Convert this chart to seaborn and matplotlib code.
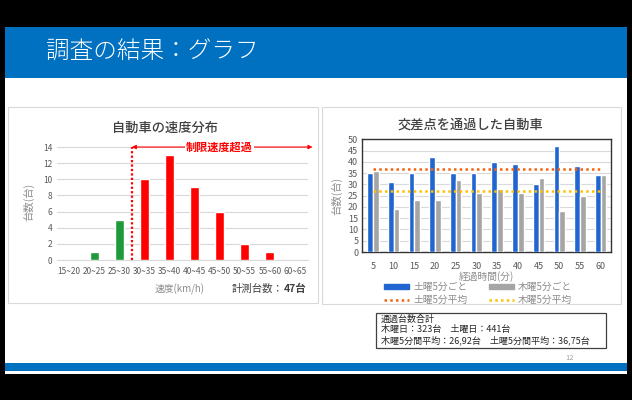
import matplotlib
matplotlib.use("Agg")
import matplotlib.pyplot as plt
import seaborn as sns
import pandas as pd
from matplotlib.patches import Rectangle, Patch
from matplotlib.lines import Line2D

sns.set_style("white")
plt.rcParams['font.family'] = ['Noto Sans CJK JP', 'DejaVu Sans']

# left chart data
speed_bins = ['15~20', '20~25', '25~30', '30~35', '35~40', '40~45',
              '45~50', '50~55', '55~60', '60~65']
speed_counts = [0, 1, 5, 10, 13, 9, 6, 2, 1, 0]
limit_index = 3  # first bin over the limit

# right chart data
minutes = ['5', '10', '15', '20', '25', '30', '35', '40', '45', '50', '55', '60']
sat_counts = [35, 31, 35, 42, 35, 35, 40, 39, 30, 47, 38, 34]
thu_counts = [36, 19, 23, 23, 32, 26, 28, 26, 33, 18, 25, 34]

W, H = 632, 400
fig = plt.figure(figsize=(W / 100, H / 100), dpi=100, facecolor='black')


def box(x0, y0, x1, y1, **kw):
    # pixel coords from top-left
    fig.patches.append(Rectangle((x0 / W, 1 - y1 / H), (x1 - x0) / W, (y1 - y0) / H,
                                 transform=fig.transFigure, **kw))


def ftext(x, y, s, **kw):
    fig.text(x / W, 1 - y / H, s, **kw)


# slide background
box(5, 27, 627, 374, facecolor='white', edgecolor='none', zorder=-5)
box(5, 27, 627, 78, facecolor='#0070c0', edgecolor='none', zorder=-4)
box(5, 363, 627, 371, facecolor='#0070c0', edgecolor='none', zorder=-4)
ftext(46, 52, '調査の結果：グラフ', color='white', fontsize=17, fontweight='light',
      va='center', ha='left')

# panel frames
box(8, 107, 318, 303, facecolor='white', edgecolor='#d9d9d9', lw=0.8, zorder=-3)
box(322, 107, 621, 304, facecolor='white', edgecolor='#d9d9d9', lw=0.8, zorder=-3)

# ---------------- left: speed distribution ----------------
axL = fig.add_axes([56.5 / W, 140 / H, 251 / W, 117 / H])
colorsL = ['#1f9a3a' if i < limit_index else '#ff0000' for i in range(len(speed_bins))]
dfL = pd.DataFrame({'bin': speed_bins, 'count': speed_counts})
sns.barplot(data=dfL, x='bin', y='count', hue='bin', palette=colorsL, legend=False,
            width=0.36, saturation=1, ax=axL, zorder=3)
axL.set_xlim(-0.5, len(speed_bins) - 0.5)
axL.set_ylim(0, 14.5)
axL.set_yticks(range(0, 15, 2))
axL.grid(axis='y', color='#d9d9d9', lw=0.8, zorder=0)
for s in ['top', 'right', 'left']:
    axL.spines[s].set_visible(False)
axL.spines['bottom'].set_color('#d9d9d9')
axL.tick_params(axis='both', length=0, labelsize=6, colors='#595959', pad=3)
axL.tick_params(axis='x', pad=5)
axL.set_xlabel('')
axL.set_ylabel('台数(台)', color='#8c8c8c', fontsize=7.5, labelpad=6)
axL.set_facecolor('none')

# speed limit marker
axL.vlines(limit_index - 0.5, 0, 14, colors='#ff0000', linestyles=(0, (1, 1)), lw=1.6, zorder=4)
axL.annotate('', xy=(len(speed_bins) - 0.3, 14), xytext=(limit_index - 0.5, 14),
             arrowprops=dict(arrowstyle='<|-|>', color='#ff0000', lw=0.8,
                             mutation_scale=6, shrinkA=0, shrinkB=0),
             annotation_clip=False, zorder=4)
axL.text(6.0, 14, '制限速度超過', color='#ff0000', fontsize=8, fontweight='bold',
         ha='center', va='center', zorder=5,
         bbox=dict(facecolor='white', edgecolor='none', pad=1))

ftext(165, 128, '自動車の速度分布', color='#404040', fontsize=9.5, fontweight='medium',
      ha='center', va='center')
ftext(180, 289, '速度(km/h)', color='#8c8c8c', fontsize=7, ha='center', va='center')
ftext(284, 289, '計測台数：', color='#404040', fontsize=7.5, ha='right', va='center')
ftext(284, 289, f'{sum(speed_counts)}台', color='#404040', fontsize=7.5, fontweight='bold',
      ha='left', va='center')

# ---------------- right: traffic per 5 min ----------------
axR = fig.add_axes([362.5 / W, 148 / H, 248.5 / W, 112.7 / H])
dfR = pd.DataFrame({
    'min': minutes * 2,
    'count': sat_counts + thu_counts,
    'day': ['土曜5分ごと'] * len(minutes) + ['木曜5分ごと'] * len(minutes),
})
blue, gray = '#2166d0', '#a5a5a5'
orange, yellow = '#f5620f', '#ffc000'
sns.barplot(data=dfR, x='min', y='count', hue='day', palette=[blue, gray],
            width=0.55, gap=0, saturation=1, ax=axR, zorder=3)
if axR.get_legend() is not None:
    axR.get_legend().remove()
sat_mean = sum(sat_counts) / len(sat_counts)
thu_mean = sum(thu_counts) / len(thu_counts)
axR.hlines(sat_mean, 0, len(minutes) - 1, colors=orange, linestyles=(0, (1, 1.3)), lw=1.8, zorder=4)
axR.hlines(thu_mean, 0, len(minutes) - 1, colors=yellow, linestyles=(0, (1, 1.3)), lw=1.8, zorder=4)
axR.set_xlim(-0.5, len(minutes) - 0.5)
axR.set_ylim(0, 50)
axR.set_yticks(range(0, 51, 5))
axR.grid(axis='y', color='#d9d9d9', lw=0.8, zorder=0)
for s in axR.spines.values():
    s.set_visible(True)
    s.set_color('#333333')
    s.set_linewidth(1.0)
axR.tick_params(axis='both', length=0, labelsize=6.5, colors='#595959', pad=3)
axR.tick_params(axis='x', pad=7)
axR.set_xlabel('経過時間(分)', color='#8c8c8c', fontsize=7, labelpad=0.5)
axR.set_ylabel('台数(台)', color='#8c8c8c', fontsize=7.5, labelpad=4)

handles = [Patch(color=blue), Line2D([], [], color=orange, ls=(0, (1, 1.3)), lw=1.8),
           Patch(color=gray), Line2D([], [], color=yellow, ls=(0, (1, 1.3)), lw=1.8)]
labels = ['土曜5分ごと', '土曜5分平均', '木曜5分ごと', '木曜5分平均']
fig.legend(handles, labels, ncol=2, loc='center', bbox_to_anchor=(478 / W, 1 - 293.5 / H),
           frameon=False, fontsize=7, labelcolor='#8c8c8c', handlelength=2.6,
           handleheight=0.45, columnspacing=2.2, handletextpad=0.4, labelspacing=0.35)

ftext(470, 125, '交差点を通過した自動車', color='#404040', fontsize=9.5, fontweight='medium',
      ha='center', va='center')

# summary box
box(376, 313, 606, 348, facecolor='white', edgecolor='#404040', lw=0.9, zorder=1)
summary = ('通過台数合計\n'
           f'木曜日：{sum(thu_counts)}台　土曜日：{sum(sat_counts)}台\n'
           f'木曜5分間平均：{thu_mean:.2f}台　土曜5分間平均：{sat_mean:.2f}台').replace('.', ',')
ftext(381, 330, summary, color='#262626', fontsize=6.5, ha='left', va='center', linespacing=1.2)
ftext(570, 358, '12', color='#a0a0a0', fontsize=5.5, ha='center', va='center')

fig.savefig('out.png', dpi=100, facecolor=fig.get_facecolor())
